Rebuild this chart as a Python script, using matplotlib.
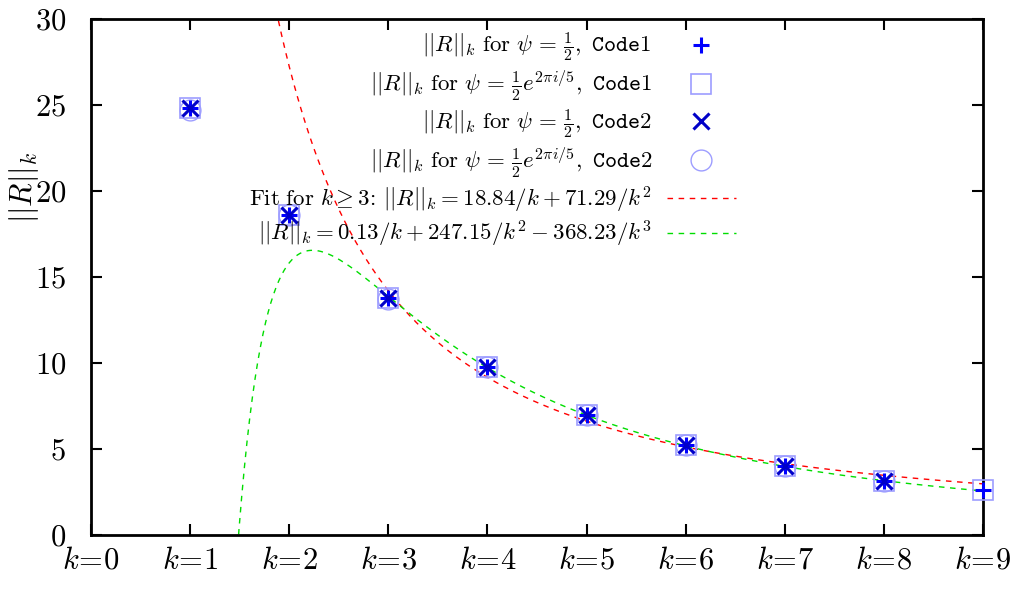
import numpy as np
import matplotlib
matplotlib.use("Agg")
import matplotlib.pyplot as plt

plt.rcParams['mathtext.fontset'] = 'cm'
plt.rcParams['font.family'] = 'serif'
plt.rcParams['font.serif'] = ['cmr10', 'DejaVu Serif']
plt.rcParams['axes.formatter.use_mathtext'] = True

# data
k_code1 = [1, 2, 3, 4, 5, 6, 7, 8, 9]
r_psi1_code1 = [24.8, 18.6, 13.8, 9.75, 7.0, 5.25, 4.0, 3.15, 2.6]
r_psi2_code1 = [24.8, 18.6, 13.8, 9.75, 7.0, 5.25, 4.0, 3.15, 2.6]
k_code2 = [1, 2, 3, 4, 5, 6, 7, 8]
r_psi1_code2 = [24.8, 18.6, 13.8, 9.75, 7.0, 5.25, 4.0, 3.15]
r_psi2_code2 = [24.7, 18.6, 13.7, 9.75, 7.0, 5.25, 4.0, 3.15]
fit1_coef = [18.84, 71.29]            # a/k + b/k^2
fit2_coef = [0.13, 247.15, -368.23]   # a/k + b/k^2 + c/k^3
xtick_labels = [r'$k\!=\!%d$' % i for i in range(10)]
ytick_vals = [0, 5, 10, 15, 20, 25, 30]

fig = plt.figure(figsize=(10.18, 5.89), dpi=100)
ax = fig.add_axes([0.0894, 0.0917, 0.8762, 0.876])

fs = 16.5
tfs = 22
ax.plot(k_code1, r_psi1_code1, linestyle='none', marker='+', ms=12, mew=2.2,
        color='#0000ff', clip_on=False, zorder=5,
        label=r'$||R||_k\ \mathrm{for}\ \psi\,=\,\frac{1}{2},\ \mathtt{Code1}$')
ax.plot(k_code1, r_psi2_code1, linestyle='none', marker='s', ms=15, mew=1.2,
        mfc='none', mec='#9d9dff', clip_on=False, zorder=4,
        label=r'$||R||_k\ \mathrm{for}\ \psi\,=\,\frac{1}{2}e^{2\pi i/5},\ \mathtt{Code1}$')
ax.plot(k_code2, r_psi1_code2, linestyle='none', marker='x', ms=11, mew=2.2,
        color='#0000c8', clip_on=False, zorder=5,
        label=r'$||R||_k\ \mathrm{for}\ \psi\,=\,\frac{1}{2},\ \mathtt{Code2}$')
ax.plot(k_code2, r_psi2_code2, linestyle='none', marker='o', ms=15, mew=1.0,
        mfc='none', mec='#9d9dff', clip_on=False, zorder=4,
        label=r'$||R||_k\ \mathrm{for}\ \psi\,=\,\frac{1}{2}e^{2\pi i/5},\ \mathtt{Code2}$')

kk = np.linspace(1.0, 9.0, 600)
f1 = fit1_coef[0] / kk + fit1_coef[1] / kk**2
f2 = fit2_coef[0] / kk + fit2_coef[1] / kk**2 + fit2_coef[2] / kk**3
ax.plot(kk, f1, color='#ff0000', lw=1.0, dashes=(4, 4),
        label=r'$\mathrm{Fit\ for}\ k\geq 3$: $||R||_k=18.84/k+71.29/k^2$')
ax.plot(kk, f2, color='#00dd00', lw=1.0, dashes=(4, 4),
        label=r'$||R||_k=0.13/k+247.15/k^2-368.23/k^3$')

ax.set_xlim(0, 9)
ax.set_ylim(0, 30)
ax.set_xticks(range(10))
ax.set_xticklabels(xtick_labels, fontsize=tfs)
ax.set_yticks(ytick_vals)
ax.set_yticklabels([r'$%d$' % v for v in ytick_vals], fontsize=tfs)
ax.tick_params(axis='x', pad=9)
ax.tick_params(axis='y', pad=18)
ax.tick_params(direction='in', length=8, width=1.5, top=True, right=True)
for s in ax.spines.values():
    s.set_linewidth(2)
ax.set_ylabel(r'$||R||_k$', fontsize=tfs)
ax.yaxis.set_label_coords(-0.056, 0.674)

leg = ax.legend(loc='upper right', bbox_to_anchor=(0.733, 0.994), frameon=False,
                markerfirst=False, fontsize=fs, handlelength=3.0,
                labelspacing=0.2, handletextpad=0.65, borderaxespad=0)

fig.savefig('out.png', dpi=100)
